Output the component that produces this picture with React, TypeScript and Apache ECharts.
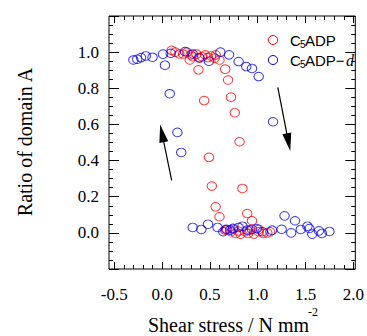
import React, { useEffect, useRef } from "react";
import * as echarts from "echarts";

// C5ADP (red)
const redX = [0.10, 0.14, 0.18, 0.22, 0.26, 0.30, 0.29, 0.32, 0.36, 0.39, 0.38, 0.42, 0.44, 0.45, 0.48, 0.51, 0.55, 0.56, 0.60, 0.66, 0.69, 0.72, 0.76, 0.81, 0.49, 0.52, 0.84, 0.56, 0.60, 0.89, 0.94, 0.66, 0.68, 0.72, 0.74, 0.77, 0.80, 0.82, 0.87, 0.90, 0.92, 0.96, 1.01, 1.01, 1.06, 1.10, 1.13];
const redY = [1.01, 1.00, 0.99, 0.99, 1.00, 0.985, 0.957, 0.975, 0.99, 0.967, 0.902, 0.975, 0.732, 0.985, 0.97, 0.979, 0.967, 0.985, 0.957, 0.906, 0.846, 0.751, 0.665, 0.504, 0.418, 0.259, 0.246, 0.144, 0.089, 0.107, 0.067, 0.015, 0.019, 0.006, 0.02, -0.003, 0.01, -0.007, 0.006, -0.003, 0.015, -0.007, 0.019, 0.006, -0.003, 0.0, 0.006];

// C5ADP-d (blue)
const blueX = [-0.30, -0.26, -0.22, -0.17, -0.10, 0.01, 0.03, 0.09, 0.24, 0.32, 0.39, 0.49, 0.61, 0.70, 0.80, 0.88, 0.94, 1.01, 0.08, 0.16, 0.20, 1.16, 0.32, 0.41, 0.48, 0.58, 0.64, 0.67, 0.71, 0.74, 0.80, 0.84, 0.89, 0.94, 0.99, 1.05, 1.15, 1.25, 1.28, 1.35, 1.39, 1.45, 1.52, 1.54, 1.57, 1.64, 1.67, 1.75];
const blueY = [0.957, 0.961, 0.970, 0.979, 0.972, 0.989, 0.928, 0.994, 1.003, 0.99, 0.97, 0.95, 1.0, 0.985, 0.948, 0.92, 0.91, 0.865, 0.77, 0.556, 0.445, 0.615, 0.030, 0.019, 0.048, 0.030, 0.006, 0.02, 0.015, 0.025, 0.030, 0.037, 0.015, 0.02, 0.024, 0.006, 0.015, 0.020, 0.094, 0.0, 0.067, 0.019, 0.037, 0.024, -0.007, 0.011, -0.003, 0.008];

const xMajorTicks = [-0.5, 0.0, 0.5, 1.0, 1.5, 2.0];
const xMinorTicks = [-0.4, -0.3, -0.2, -0.1, 0.1, 0.2, 0.3, 0.4, 0.6, 0.7, 0.8, 0.9, 1.1, 1.2, 1.3, 1.4, 1.6, 1.7, 1.8, 1.9];
const yTickLabels = [0.0, 0.2, 0.4, 0.6, 0.8, 1.0];

// arrows in data coordinates: [tailX, tailY, tipX, tipY]
const arrowUp = [0.10, 0.29, -0.02, 0.60];
const arrowDown = [1.21, 0.805, 1.34, 0.453];

const X_MIN = -0.555, X_MAX = 2.02, Y_MIN = -0.2, Y_MAX = 1.2;

const RED = "#ff0000";
const BLUE = "#0000ff";
const SERIF = "Liberation Serif";
const SANS = "Liberation Sans";

export default function App() {
  const ref = useRef<HTMLDivElement>(null);
  useEffect(() => {
    const chart = echarts.init(ref.current!, null, { renderer: "svg" });
    const noLine = { show: false, onZero: false };
    const baseX = { type: "value", min: X_MIN, max: X_MAX, splitLine: { show: false }, gridIndex: 0 };
    const tick = (len: number, vals?: number[]) => ({
      show: true, inside: true, length: len, lineStyle: { color: "#000", width: 1 },
      ...(vals ? { customValues: vals } : {}),
    });
    chart.setOption({
      animation: false,
      backgroundColor: "#fff",
      grid: { left: 109, right: 10, top: 16, bottom: 67 },
      xAxis: [
        {
          ...baseX, position: "bottom", axisLine: noLine, axisTick: tick(7, xMajorTicks),
          axisLabel: { show: true, customValues: xMajorTicks, margin: 17, color: "#000", fontFamily: SERIF, fontSize: 17, formatter: (v: number) => v.toFixed(1) },
        },
        { ...baseX, position: "bottom", axisLine: noLine, axisTick: tick(4, xMinorTicks), axisLabel: { show: false } },
        { ...baseX, position: "top", axisLine: noLine, axisTick: tick(7, xMajorTicks), axisLabel: { show: false } },
        { ...baseX, position: "top", axisLine: noLine, axisTick: tick(4, xMinorTicks), axisLabel: { show: false } },
      ],
      yAxis: [
        {
          type: "value", min: Y_MIN, max: Y_MAX, interval: 0.2, position: "left", axisLine: noLine,
          splitLine: { show: false }, axisTick: tick(10),
          minorTick: { show: true, splitNumber: 4, length: 4, lineStyle: { color: "#000" } },
          axisLabel: { show: false },
        },
        {
          type: "value", min: Y_MIN, max: Y_MAX, interval: 0.2, position: "right", axisLine: noLine,
          splitLine: { show: false }, axisTick: tick(10),
          minorTick: { show: true, splitNumber: 4, length: 4, lineStyle: { color: "#000" } },
          axisLabel: { show: false },
        },
      ],
      series: [
        {
          name: "C5ADP", type: "scatter", xAxisIndex: 0, yAxisIndex: 0,
          symbol: "circle", symbolSize: [9.5, 8.5],
          itemStyle: { color: "rgba(0,0,0,0)", borderColor: RED, borderWidth: 1 },
          data: redX.map((x, i) => [x, redY[i]]),
        },
        {
          name: "C5ADP-d", type: "scatter", xAxisIndex: 0, yAxisIndex: 0,
          symbol: "circle", symbolSize: [9.5, 8.5],
          itemStyle: { color: "rgba(0,0,0,0)", borderColor: BLUE, borderWidth: 1 },
          data: blueX.map((x, i) => [x, blueY[i]]),
        },
      ],
    });

    const toPx = (x: number, y: number) =>
      chart.convertToPixel({ xAxisIndex: 0, yAxisIndex: 0 }, [x, y]) as number[];

    const makeArrow = (a: number[]) => {
      const t = toPx(a[0], a[1]);
      const h = toPx(a[2], a[3]);
      const dx = h[0] - t[0], dy = h[1] - t[1];
      const len = Math.sqrt(dx * dx + dy * dy);
      const ux = dx / len, uy = dy / len;
      const hl = 18, hw = 4.5;
      const bx = h[0] - ux * hl, by = h[1] - uy * hl;
      return [
        { type: "line", shape: { x1: t[0], y1: t[1], x2: bx + ux * 2, y2: by + uy * 2 }, style: { stroke: "#000", lineWidth: 1.2 } },
        {
          type: "polygon",
          shape: { points: [[h[0], h[1]], [bx - uy * hw, by + ux * hw], [bx + uy * hw, by - ux * hw]] },
          style: { fill: "#000" },
        },
      ];
    };

    const txt = (x: number, y: number, text: string, font: string, align = "left", rotation = 0) => ({
      type: "text", x, y, rotation,
      style: { text, fill: "#000", font, align, verticalAlign: "middle" },
    });

    const tl = toPx(X_MIN, Y_MAX);
    const br = toPx(X_MAX, Y_MIN);

    chart.setOption({
      graphic: [
        {
          type: "rect",
          shape: { x: tl[0], y: tl[1], width: br[0] - tl[0], height: br[1] - tl[1] },
          style: { fill: "none", stroke: "#000", lineWidth: 1 },
        },
        ...yTickLabels.map((v) => txt(tl[0] - 10, toPx(0, v)[1], v.toFixed(1), `17px "${SERIF}"`, "right")),
        ...makeArrow(arrowUp),
        ...makeArrow(arrowDown),
        { type: "ellipse", shape: { cx: 273, cy: 40, rx: 4.7, ry: 4.5 }, style: { fill: "none", stroke: RED, lineWidth: 1 } },
        { type: "ellipse", shape: { cx: 273, cy: 60, rx: 4.7, ry: 4.5 }, style: { fill: "none", stroke: BLUE, lineWidth: 1 } },
        txt(290, 40, "C", `15px "${SANS}"`),
        txt(300, 44, "5", `10px "${SANS}"`),
        txt(305, 40, "ADP", `15px "${SANS}"`),
        txt(290, 60, "C", `15px "${SANS}"`),
        txt(300, 64, "5", `10px "${SANS}"`),
        txt(305, 60, "ADP\u2212", `15px "${SANS}"`),
        txt(346, 60, "d", `italic 16px "${SERIF}"`),
        txt(25, 142, "Ratio of domain A", `20px "${SERIF}"`, "center", Math.PI / 2),
        txt(148, 325, "Shear stress / N mm", `20px "${SERIF}"`),
        txt(308, 312, "-2", `12px "${SERIF}"`),
      ],
    });

    return () => chart.dispose();
  }, []);
  return (
    <div
      ref={ref}
      style={{ position: "fixed", left: 0, top: 0, width: 367, height: 336, background: "#fff" }}
    />
  );
}
